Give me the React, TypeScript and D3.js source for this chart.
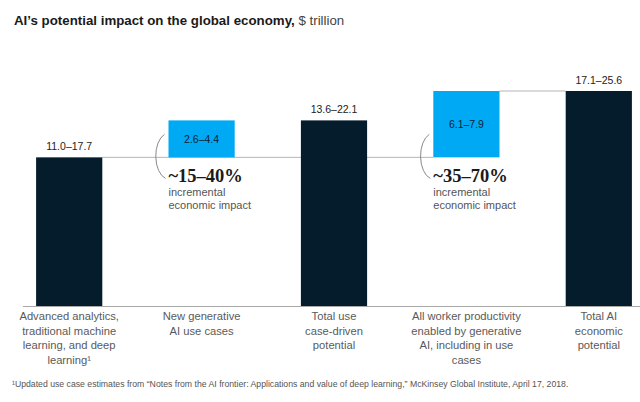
import React from "react";
import * as d3 from "d3";

const categoryLines: string[][] = [
  ["Advanced analytics,", "traditional machine", "learning, and deep", "learning¹"],
  ["New generative", "AI use cases"],
  ["Total use", "case-driven", "potential"],
  ["All worker productivity", "enabled by generative", "AI, including in use", "cases"],
  ["Total AI", "economic", "potential"],
];
const categories = ["c1", "c2", "c3", "c4", "c5"];
const lowValues = [11.0, 2.6, 13.6, 6.1, 17.1];
const highValues = [17.7, 4.4, 22.1, 7.9, 25.6];
const barBases = [0, 17.7, 0, 17.7, 0];
const barKinds = ["total", "increment", "total", "increment", "total"];
const incrementNotes = ["", "~15–40%", "", "~35–70%", ""];
const noteLines = ["incremental", "economic impact"];

const W = 640;
const H = 402;
const DARK = "#051c2c";
const BLUE = "#00a9f4";
const SANS = "'Liberation Sans', Arial, sans-serif";
const SERIF = "'Liberation Serif', 'DejaVu Serif', serif";

export default function App() {
  const x = d3.scaleBand<string>().domain(categories).range([3, 665]).paddingInner(0.5).paddingOuter(0.25);
  const y = d3.scaleLinear().domain([0, 25.6]).range([306, 91]);
  const bw = x.bandwidth();
  const fmt = d3.format(".1f");

  const bars = categories.map((c, i) => ({
    c,
    i,
    x0: x(c) as number,
    yTop: y(barBases[i] + highValues[i]),
    yBot: y(barBases[i]),
    kind: barKinds[i],
    label: `${fmt(lowValues[i])}–${fmt(highValues[i])}`,
  }));

  const c1 = { x1: bars[0].x0 + bw, x2: bars[3].x0, yv: y(barBases[3]) };
  const c2 = { x1: bars[3].x0 + bw, x2: bars[4].x0, yv: y(barBases[3] + highValues[3]) };

  return (
    <svg width={W} height={H} style={{ position: "absolute", left: 0, top: 0, background: "#fff" }}>
      <text x={14} y={25} fontFamily={SANS} fontSize={13.3} fill="#1a1a1a">
        <tspan fontWeight="bold">AI’s potential impact on the global economy,</tspan>
        <tspan fill="#444"> $ trillion</tspan>
      </text>

      <line x1={c1.x1} x2={c1.x2} y1={c1.yv} y2={c1.yv} stroke="#b5b5b5" strokeWidth={1} />
      <line x1={c2.x1} x2={c2.x2} y1={c2.yv} y2={c2.yv} stroke="#b5b5b5" strokeWidth={1} />

      <line x1={23} x2={640} y1={y(0) + 0.5} y2={y(0) + 0.5} stroke="#a8a8a8" strokeWidth={1} />

      {bars.map((b) => (
        <g key={b.c}>
          <rect
            x={b.x0}
            y={b.yTop}
            width={bw}
            height={b.yBot - b.yTop}
            fill={b.kind === "total" ? DARK : BLUE}
          />
          {b.kind === "total" ? (
            <text x={b.x0 + bw / 2} y={b.yTop - 7} textAnchor="middle" fontFamily={SANS} fontSize={10.5} fill="#222">
              {b.label}
            </text>
          ) : (
            <text
              x={b.x0 + bw / 2}
              y={(b.yTop + b.yBot) / 2 + 4}
              textAnchor="middle"
              fontFamily={SANS}
              fontSize={10.5}
              fill="#0b2237"
            >
              {b.label}
            </text>
          )}
          {b.kind === "increment" && (
            <g>
              <path
                d={`M${b.x0 - 4},${b.yBot - 23} A 13 23 0 0 0 ${b.x0 - 3},${b.yBot + 21}`}
                fill="none"
                stroke="#8a8a8a"
                strokeWidth={1}
              />
              <text x={b.x0} y={b.yBot + 25} fontFamily={SERIF} fontWeight="bold" fontSize={18.5} fill="#1a1a1a">
                {incrementNotes[b.i]}
              </text>
              {noteLines.map((t, k) => (
                <text key={k} x={b.x0} y={b.yBot + 38.5 + k * 13} fontFamily={SANS} fontSize={11} fill="#555">
                  {t}
                </text>
              ))}
            </g>
          )}
          {categoryLines[b.i].map((t, k) => (
            <text
              key={k}
              x={b.x0 + bw / 2}
              y={320 + k * 14.5}
              textAnchor="middle"
              fontFamily={SANS}
              fontSize={11.2}
              fill="#5a5a5a"
            >
              {t}
            </text>
          ))}
        </g>
      ))}

      <text x={12} y={387} fontFamily={SANS} fontSize={8.7} fill="#555">
        ¹Updated use case estimates from “Notes from the AI frontier: Applications and value of deep learning,” McKinsey Global Institute, April 17, 2018.
      </text>
    </svg>
  );
}
